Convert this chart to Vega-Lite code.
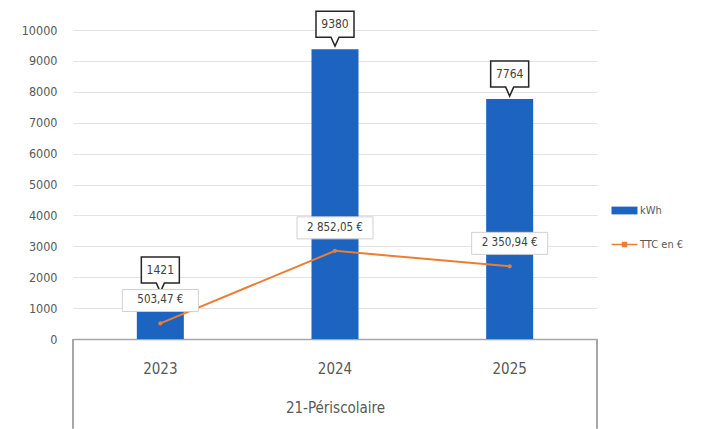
{
  "$schema": "https://vega.github.io/schema/vega-lite/v6.json",
  "width": 524,
  "height": 309,
  "autosize": "none",
  "padding": {"left": 73, "top": 30, "right": 105, "bottom": 90},
  "background": "white",
  "config": {
    "view": {"stroke": null},
    "font": "Liberation Sans Narrow, DejaVu Sans Condensed, Liberation Sans, sans-serif",
    "locale": {"number": {"decimal": ",", "thousands": " ", "grouping": [3], "currency": ["", " €"]}},
    "axisY": {"tickCount": 11, "domain": false, "ticks": false, "labelPadding": 16, "labelFontSize": 12.5, "labelColor": "#595959", "gridColor": "#e3e3e3", "labelOverlap": false}
  },
  "data": {"values": [
    {"year": "2023", "kWh": 1421, "TTC": 503.47},
    {"year": "2024", "kWh": 9380, "TTC": 2852.05},
    {"year": "2025", "kWh": 7764, "TTC": 2350.94}
  ]},
  "encoding": {
    "x": {
      "field": "year", "type": "nominal",
      "scale": {"paddingInner": 0, "paddingOuter": 0},
      "title": "21-Périscolaire",
      "axis": {
        "domainColor": "#a6a6a6", "domainWidth": 1.5, "ticks": false, "grid": false,
        "labelAngle": 0, "labelPadding": 22, "labelFontSize": 15, "labelColor": "#595959",
        "titleFontSize": 15, "titleFontWeight": "normal", "titleColor": "#595959", "titlePadding": 24
      }
    }
  },
  "layer": [
    {
      "mark": {"type": "bar", "width": 47},
      "encoding": {
        "y": {
          "field": "kWh", "type": "quantitative",
          "scale": {"domain": [0, 10000], "nice": false},
          "title": null,
          "axis": {"values": [0, 1000, 2000, 3000, 4000, 5000, 6000, 7000, 8000, 9000, 10000], "format": "d", "tickCount": 11}
        },
        "color": {
          "datum": "kWh", "type": "nominal",
          "scale": {"domain": ["kWh", "TTC en €"], "range": ["#1d63c0", "#ed7d31"]},
          "legend": {
            "title": null, "orient": "none", "legendX": 546, "legendY": 175, "padding": 0,
            "symbolSize": 676, "rowPadding": 22, "labelOffset": 10, "labelFontSize": 11, "labelColor": "#595959",
            "encode": {
              "symbols": {"update": {
                "shape": {"signal": "datum.value === 'kWh' ? 'M-1,-0.3H1V0.3H-1Z' : 'M-1,0H1M-0.15,-0.15H0.15V0.15H-0.15Z'"},
                "size": {"value": 676},
                "fill": {"signal": "datum.value === 'kWh' ? '#1d63c0' : '#ed7d31'"},
                "stroke": {"signal": "datum.value === 'kWh' ? '#1d63c0' : '#ed7d31'"},
                "strokeWidth": {"signal": "datum.value === 'kWh' ? 0 : 1.5"},
                "opacity": {"value": 1}
              }}
            }
          }
        }
      }
    },
    {
      "mark": {"type": "rule", "color": "#a6a6a6", "strokeWidth": 1.5},
      "encoding": {
        "x": {"datum": "2023", "bandPosition": 0},
        "y": {"datum": 0, "type": "quantitative", "title": null, "axis": {"values": [0, 1000, 2000, 3000, 4000, 5000, 6000, 7000, 8000, 9000, 10000], "format": "d", "tickCount": 11}},
        "y2": {"datum": -2900}
      }
    },
    {
      "mark": {"type": "rule", "color": "#a6a6a6", "strokeWidth": 1.5},
      "encoding": {
        "x": {"datum": "2025", "bandPosition": 1},
        "y": {"datum": 0, "type": "quantitative", "title": null, "axis": {"values": [0, 1000, 2000, 3000, 4000, 5000, 6000, 7000, 8000, 9000, 10000], "format": "d", "tickCount": 11}},
        "y2": {"datum": -2900}
      }
    },
    {
      "mark": {"type": "line", "strokeWidth": 2},
      "encoding": {
        "y": {"field": "TTC", "type": "quantitative", "title": null, "axis": {"values": [0, 1000, 2000, 3000, 4000, 5000, 6000, 7000, 8000, 9000, 10000], "format": "d", "tickCount": 11}},
        "color": {"datum": "TTC en €", "type": "nominal"}
      }
    },
    {
      "mark": {"type": "point", "filled": true, "size": 18, "color": "#ed7d31", "opacity": 1},
      "encoding": {"y": {"field": "TTC", "type": "quantitative", "title": null, "axis": {"values": [0, 1000, 2000, 3000, 4000, 5000, 6000, 7000, 8000, 9000, 10000], "format": "d", "tickCount": 11}}}
    },
    {
      "mark": {"type": "point", "shape": "M-1.9,-3.8H1.9V-1.2H0.4L0,-0.3L-0.4,-1.2H-1.9Z", "size": 400, "filled": true, "fill": "white", "stroke": "#262626", "strokeWidth": 1.5, "opacity": 1},
      "encoding": {"y": {"field": "kWh", "type": "quantitative", "title": null, "axis": {"values": [0, 1000, 2000, 3000, 4000, 5000, 6000, 7000, 8000, 9000, 10000], "format": "d", "tickCount": 11}}}
    },
    {
      "mark": {"type": "text", "dy": -25, "baseline": "middle", "fontSize": 12, "color": "#404040"},
      "encoding": {
        "y": {"field": "kWh", "type": "quantitative", "title": null, "axis": {"values": [0, 1000, 2000, 3000, 4000, 5000, 6000, 7000, 8000, 9000, 10000], "format": "d", "tickCount": 11}},
        "text": {"field": "kWh", "type": "quantitative", "format": "d"}
      }
    },
    {
      "mark": {"type": "point", "shape": "M-3.8,-3.4H3.8V-1.2H-3.8Z", "size": 400, "filled": true, "fill": "white", "stroke": "#d0d0d0", "strokeWidth": 1, "opacity": 1},
      "encoding": {"y": {"field": "TTC", "type": "quantitative", "title": null, "axis": {"values": [0, 1000, 2000, 3000, 4000, 5000, 6000, 7000, 8000, 9000, 10000], "format": "d", "tickCount": 11}}}
    },
    {
      "mark": {"type": "text", "dy": -23, "baseline": "middle", "fontSize": 11.5, "color": "#404040"},
      "encoding": {
        "y": {"field": "TTC", "type": "quantitative", "title": null, "axis": {"values": [0, 1000, 2000, 3000, 4000, 5000, 6000, 7000, 8000, 9000, 10000], "format": "d", "tickCount": 11}},
        "text": {"field": "TTC", "type": "quantitative", "format": "$,.2f"}
      }
    }
  ]
}
